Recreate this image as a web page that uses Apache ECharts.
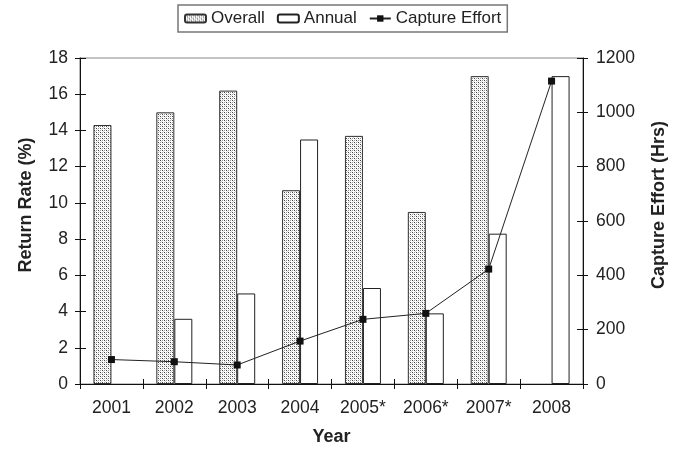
<!DOCTYPE html>
<html>
<head>
<meta charset="utf-8">
<script src="https://cdn.jsdelivr.net/npm/echarts@6/dist/echarts.min.js"></script>
<style>
html,body{margin:0;padding:0;background:#fff;}
#chart{width:676px;height:452px;}
</style>
</head>
<body>
<div id="chart"></div>
<script>
var years = ['2001','2002','2003','2004','2005*','2006*','2007*','2008'];
var overall = [14.3, 15.0, 16.2, 10.7, 13.7, 9.5, 17.0, null];
var annual = [null, 3.6, 5.0, 13.5, 5.3, 3.9, 8.3, 17.0];
var effort = [90, 82, 70, 158, 238, 260, 423, 1115];

var FONT = '"Liberation Sans", Arial, sans-serif';
var TXT = '#222';

// stipple pattern
var pc = document.createElement('canvas');
pc.width = 4; pc.height = 4;
var g = pc.getContext('2d');
g.fillStyle = '#fff'; g.fillRect(0,0,4,4);
g.fillStyle = '#444'; g.fillRect(0,0,1,1); g.fillRect(2,2,1,1);
g.fillStyle = '#999'; g.fillRect(2,0,1,1); g.fillRect(0,2,1,1);
g.fillStyle = '#d4d4d4'; g.fillRect(1,1,1,1); g.fillRect(3,3,1,1);
var pattern = {image: pc, repeat: 'repeat'};

var chart = echarts.init(document.getElementById('chart'));
var lineStyleAxis = {color: '#111', width: 1};
var option = {
  animation: false,
  backgroundColor: '#fff',
  textStyle: {fontFamily: FONT, color: TXT},
  grid: {left: 80, right: 86, top: 58, bottom: 68, show: true,
         borderColor: '#888', borderWidth: 1.2, backgroundColor: 'transparent'},
  legend: {
    left: 178, top: 5,
    padding: [5, 6, 5, 6],
    itemGap: 12,
    itemWidth: 21, itemHeight: 8,
    borderColor: '#777', borderWidth: 1.5,
    textStyle: {fontFamily: FONT, fontSize: 17, color: TXT},
    data: ['Overall', 'Annual', 'Capture Effort']
  },
  xAxis: [
    {type: 'category', data: years, position: 'bottom',
     name: 'Year', nameLocation: 'middle', nameGap: 44,
     nameTextStyle: {fontFamily: FONT, fontSize: 18, fontWeight: 'bold', color: TXT},
     axisLine: {onZero: false, lineStyle: lineStyleAxis},
     axisTick: {show: true, length: 5, inside: false, lineStyle: lineStyleAxis},
     axisLabel: {fontFamily: FONT, fontSize: 17.5, color: TXT, margin: 15},
     splitLine: {show: false}},
    {type: 'category', data: years, position: 'bottom',
     axisLine: {show: false, onZero: false},
     axisTick: {show: true, length: 5, inside: true, lineStyle: lineStyleAxis},
     axisLabel: {show: false}, splitLine: {show: false}}
  ],
  yAxis: [
    {type: 'value', min: 0, max: 18, interval: 2, position: 'left',
     name: 'Return Rate (%)', nameLocation: 'middle', nameGap: 45, nameRotate: 90,
     nameTextStyle: {fontFamily: FONT, fontSize: 18, fontWeight: 'bold', color: TXT, padding: [0,0,0,32]},
     axisLine: {show: true, onZero: false, lineStyle: lineStyleAxis},
     axisTick: {show: true, length: 5, inside: false, lineStyle: lineStyleAxis},
     axisLabel: {fontFamily: FONT, fontSize: 17.5, color: TXT, margin: 12},
     splitLine: {show: false}},
    {type: 'value', min: 0, max: 1200, interval: 200, position: 'right',
     name: 'Capture Effort (Hrs)', nameLocation: 'middle', nameGap: 67, nameRotate: 90,
     nameTextStyle: {fontFamily: FONT, fontSize: 18, fontWeight: 'bold', color: TXT, padding: [0,0,0,32]},
     axisLine: {show: true, onZero: false, lineStyle: lineStyleAxis},
     axisTick: {show: true, length: 5, inside: false, lineStyle: lineStyleAxis},
     axisLabel: {fontFamily: FONT, fontSize: 17.5, color: TXT, margin: 13,
                 formatter: function (v) { return String(v); }},
     splitLine: {show: false}},
    {type: 'value', min: 0, max: 18, interval: 2, position: 'left',
     axisLine: {show: false, onZero: false},
     axisTick: {show: true, length: 6, inside: true, lineStyle: lineStyleAxis},
     axisLabel: {show: false}, splitLine: {show: false}},
    {type: 'value', min: 0, max: 1200, interval: 200, position: 'right',
     axisLine: {show: false, onZero: false},
     axisTick: {show: true, length: 6, inside: true, lineStyle: lineStyleAxis},
     axisLabel: {show: false}, splitLine: {show: false}}
  ],
  series: [
    {name: 'Overall', type: 'bar', xAxisIndex: 0, yAxisIndex: 0, data: overall,
     barWidth: 18, barGap: '0%',
     itemStyle: {color: pattern, borderColor: '#333', borderWidth: 1}},
    {name: 'Annual', type: 'bar', xAxisIndex: 0, yAxisIndex: 0, data: annual,
     barWidth: 18, barGap: '0%',
     itemStyle: {color: '#fff', borderColor: '#222', borderWidth: 1}},
    {name: 'Capture Effort', type: 'line', xAxisIndex: 0, yAxisIndex: 1, data: effort,
     symbol: 'rect', symbolSize: 7, z: 5,
     itemStyle: {color: '#111'},
     lineStyle: {color: '#222', width: 1}}
  ]
};
chart.setOption(option);
</script>
</body>
</html>
